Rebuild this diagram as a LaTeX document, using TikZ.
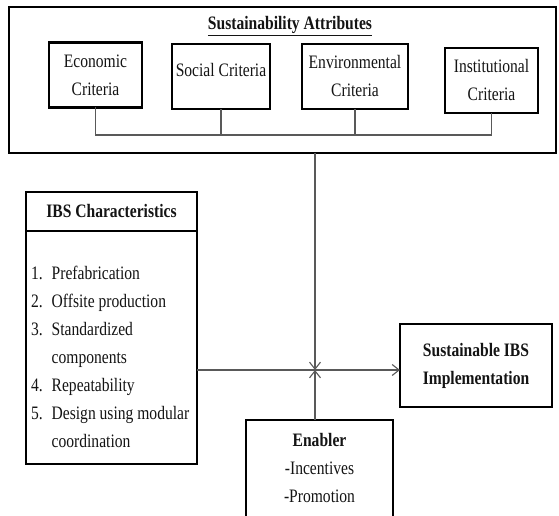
\documentclass[tikz,border=0pt]{standalone}
\usepackage{fontspec}
\setmainfont[FakeStretch=0.82]{Liberation Serif}
\usetikzlibrary{arrows.meta}

\begin{document}
\begin{tikzpicture}[x=1pt,y=1pt,
  txt/.style={text=textColor,inner sep=0pt,outer sep=0pt,align=center,font=\fontsize{19}{28}\selectfont},
  critbox/.style={txt,draw=boxColor,line width=2.6pt,minimum width=#1,minimum height=65},
  bigbox/.style={draw=boxColor,line width=2.6pt,inner sep=0pt,outer sep=0pt},
  link/.style={draw=linkColor,line width=1.1pt},
  tip/.style={-{Straight Barb[length=7pt,width=11pt,line width=1.1pt]}}]
\definecolor{fillColor}{RGB}{255,255,255}
\definecolor{boxColor}{RGB}{0,0,0}
\definecolor{textColor}{RGB}{20,20,20}
\definecolor{linkColor}{gray}{0.35}
\path[use as bounding box,fill=fillColor] (0,0) rectangle (559,516);
\clip (0,0) rectangle (559,516);

\node[bigbox,line width=2pt,minimum width=547,minimum height=146] (frame) at (282.5,436) {};
\node[txt,font=\fontsize{19}{28}\selectfont\bfseries] (title) at (290,490) {\underline{Sustainability Attributes}};

\node[critbox=93] (eco) at (95.5,441) {Economic\\Criteria};
\node[critbox=98,text depth=13pt] (soc) at (221,439.5) {Social Criteria};
\node[critbox=106] (env) at (355,439.5) {Environmental\\Criteria};
\node[critbox=93] (inst) at (491.5,435.5) {Institutional\\Criteria};

\coordinate (bus) at (0,381);
\path[link] (eco.south) -- (eco.south |- bus) -- (inst.south |- bus) -- (inst.south);
\path[link] (soc.south) -- (soc.south |- bus);
\path[link] (env.south) -- (env.south |- bus);

\node[bigbox,txt,draw=boxColor,line width=2.6pt,font=\fontsize{19}{28}\selectfont\bfseries,minimum width=171,minimum height=39] (ibshead) at (111.5,304.5) {IBS Characteristics};
\node[bigbox,minimum width=171,minimum height=233] (ibsbody) at (111.5,168.5) {};
\node[txt,anchor=west,align=left] (ibslist) at (31,158.5) {%
\begin{tabular}{@{}l@{\hspace{9pt}}l@{}}
1. & Prefabrication\\
2. & Offsite production\\
3. & Standardized\\
   & components\\
4. & Repeatability\\
5. & Design using modular\\
   & coordination
\end{tabular}};

\node[bigbox,txt,draw=boxColor,line width=2.6pt,font=\fontsize{19}{28}\selectfont\bfseries,minimum width=152,minimum height=83] (impl) at (476,150.5) {Sustainable IBS\\Implementation};

\node[bigbox,txt,draw=boxColor,line width=2.6pt,minimum width=147,minimum height=106,text depth=11pt] (enabler) at (319.5,43) {\textbf{Enabler}\\-Incentives\\-Promotion};

\coordinate (hub) at (315,146);
\path[link,tip] (hub |- frame.south) -- (hub);
\path[link,tip] (hub |- enabler.north) -- (hub);
\path[link,tip] (ibsbody.east |- hub) -- (impl.west |- hub);
\end{tikzpicture}
\end{document}
